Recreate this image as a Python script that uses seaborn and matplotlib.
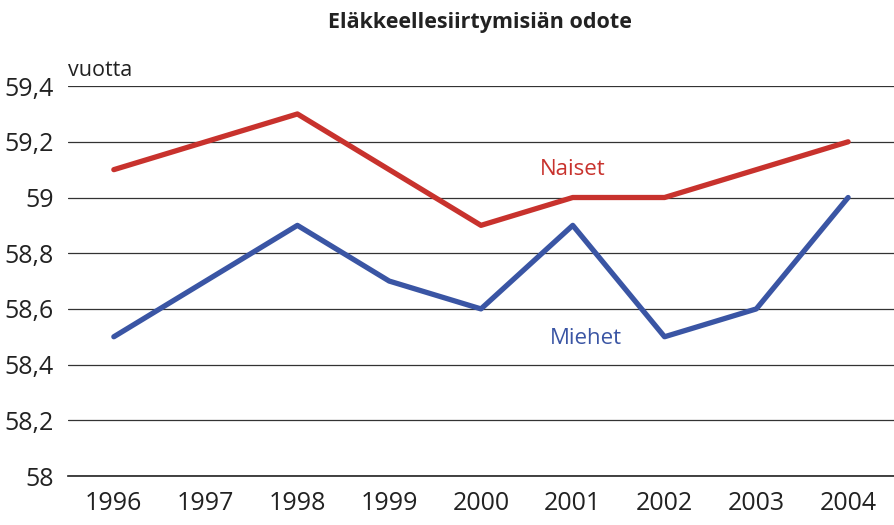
import pandas as pd
import numpy as np
import matplotlib.pyplot as plt
import seaborn as sns
from matplotlib.ticker import FuncFormatter

years = ["1996", "1997", "1998", "1999", "2000", "2001", "2002", "2003", "2004"]
naiset = [59.1, 59.2, 59.3, 59.1, 58.9, 59.0, 59.0, 59.1, 59.2]
miehet = [58.5, 58.7, 58.9, 58.7, 58.6, 58.9, 58.5, 58.6, 59.0]
yticks = [58, 58.2, 58.4, 58.6, 58.8, 59, 59.2, 59.4]

sns.set_style("white")
plt.rcParams['font.family'] = ['Open Sans', 'DejaVu Sans']

#long form table for seaborn
df = pd.DataFrame({
    "idx": list(range(len(years))) * 2,
    "value": naiset + miehet,
    "sex": ["Naiset"] * len(years) + ["Miehet"] * len(years),
})
colors = {"Naiset": "#c8322d", "Miehet": "#3a55a4"}

fig = plt.figure(figsize=(8.94, 5.25), dpi=100)
ax = fig.add_axes([0.076, 0.0933, 0.924, 0.7427])
sns.lineplot(data=df, x="idx", y="value", hue="sex", palette=colors,
             linewidth=3.8, legend=False, ax=ax)

ax.set_xlim(-0.5, 8.42)
ax.set_ylim(58, 59.4)
ax.set_yticks(yticks)
ax.yaxis.set_major_formatter(FuncFormatter(lambda v, p: f"{v:g}".replace(".", ",")))
ax.grid(axis="y", color="#333333", linewidth=0.9)
ax.set_axisbelow(True)

#category labels at centres, tick marks at boundaries
ax.set_xticks(np.arange(len(years)))
ax.set_xticklabels(years)
ax.set_xticks(np.arange(-0.5, len(years)), minor=True)
ax.tick_params(axis="x", which="major", length=0, pad=11, labelsize=18, colors="#222222")
ax.tick_params(axis="x", which="minor", length=8, width=1, color="#555555", direction="out")
ax.tick_params(axis="y", length=0, pad=10, labelsize=18, colors="#222222")
for s in ["left", "right", "top"]:
    ax.spines[s].set_visible(False)
ax.spines["bottom"].set_color("#222222")
ax.spines["bottom"].set_linewidth(1.2)
ax.set_xlabel("")
ax.set_ylabel("")

ax.text(5.0, 59.10, "Naiset", color=colors["Naiset"], fontsize=16, ha="center", va="center")
ax.text(5.14, 58.495, "Miehet", color=colors["Miehet"], fontsize=16, ha="center", va="center")
ax.text(0.0, 1.012, "vuotta", transform=ax.transAxes, fontsize=15.5, color="#222222", ha="left", va="bottom")
fig.text(0.537, 0.958, "Eläkkeellesiirtymisiän odote", fontsize=15.5, fontweight="bold",
         color="#222222", ha="center", va="center")

fig.savefig("out.png", dpi=100)
